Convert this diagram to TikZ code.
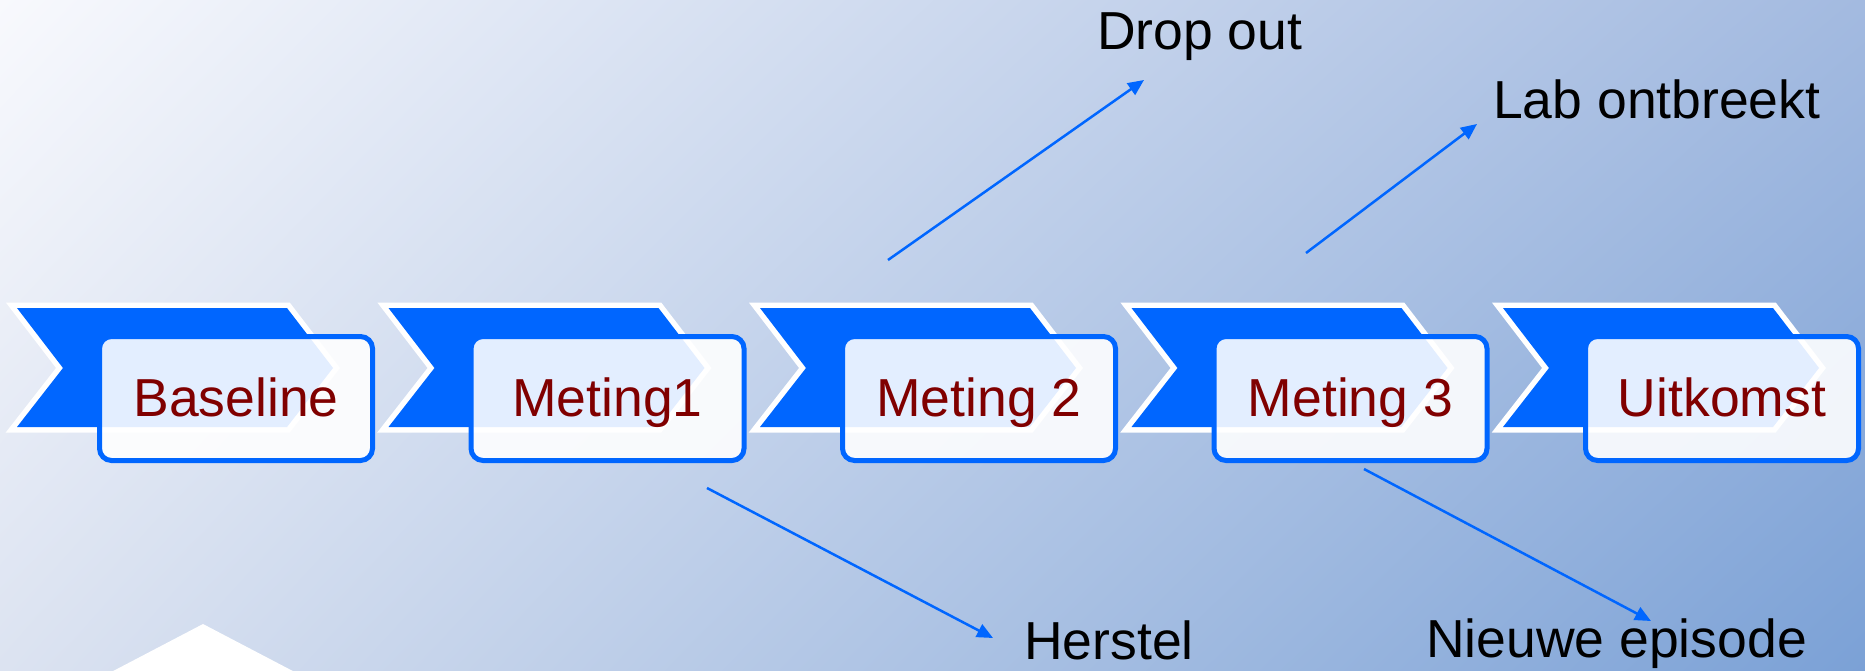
\documentclass[tikz,border=0pt]{standalone}
\usepackage{fontspec}
\setmainfont{Liberation Sans}
\usetikzlibrary{arrows.meta,shadings}
\definecolor{chevblue}{RGB}{0,102,255}
\definecolor{darkred}{RGB}{128,0,0}
\definecolor{bgtl}{RGB}{248,249,253}
\definecolor{bgtr}{RGB}{163,186,224}
\definecolor{bgbl}{RGB}{220,227,241}
\definecolor{bgbr}{RGB}{123,161,214}

\begin{document}
\begin{tikzpicture}[x=1pt,y=-1pt,
  chevrim/.style={draw=white,fill=white,line width=11pt,line join=miter},
  chev/.style={fill=chevblue},
  stage/.style={draw=chevblue,line width=5pt,fill=white,fill opacity=0.89,
    text opacity=1,rounded corners=12pt,minimum width=273pt,minimum height=124pt,
    inner sep=0pt,text=darkred,font=\fontsize{53.5}{60}\selectfont,
    text height=36pt,text depth=0pt},
  lbl/.style={font=\fontsize{53.5}{60}\selectfont,inner sep=0pt,anchor=base west},
  link/.style={chevblue,line width=2.5pt,-{Triangle[length=16pt,width=14pt]}}]
\useasboundingbox (0,0) rectangle (1865,671);
\clip (0,0) rectangle (1865,671);
\shade[upper left=bgtl,upper right=bgtr,lower left=bgbl,lower right=bgbr]
  (0,0) rectangle (1865,671);
\fill[white] (96,680) -- (203,624) -- (310,680) -- cycle;

\foreach \k/\txt in {0/Baseline,1/Meting1,2/Meting 2,3/Meting 3,4/Uitkomst}
{
\begin{scope}[shift={(371.5*\k,0)}]
  \filldraw[chevrim] (17,308) -- (287,308) -- (333,368) -- (287,427) -- (17,427) -- (63,368) -- cycle;
  \fill[chev] (17,308) -- (287,308) -- (333,368) -- (287,427) -- (17,427) -- (63,368) -- cycle;
  \node[stage] (stage\k) at (236,398.5) {\txt};
\end{scope}
}

\node[lbl] (dropout) at (1097,50) {Drop out};
\node[lbl] (labmiss) at (1493,119) {Lab ontbreekt};
\node[lbl] (herstel) at (1024,659) {Herstel};
\node[lbl] (episode) at (1426,657) {Nieuwe episode};

\coordinate (dropfrom) at (888,260);
\coordinate (dropto) at (1144,80);
\coordinate (labfrom) at (1306,253);
\coordinate (labto) at (1477,124);
\coordinate (hersfrom) at (707,488);
\coordinate (hersto) at (993,638);
\coordinate (epifrom) at (1364,469);
\coordinate (epito) at (1651,621);

\draw[link] (dropfrom) -- (dropto);
\draw[link] (labfrom) -- (labto);
\draw[link] (hersfrom) -- (hersto);
\draw[link] (epifrom) -- (epito);
\end{tikzpicture}
\end{document}
